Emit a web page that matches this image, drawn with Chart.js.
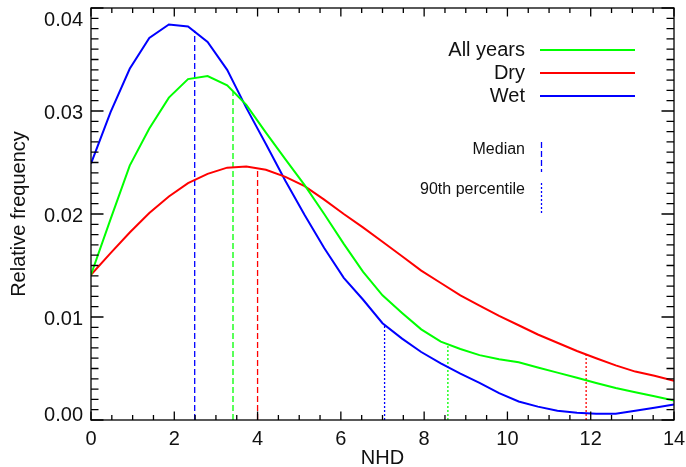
<!DOCTYPE html>
<html>
<head>
<meta charset="utf-8">
<script src="https://cdn.jsdelivr.net/npm/chart.js@4"></script>
<style>
html, body { margin: 0; padding: 0; background: #fff; }
</style>
</head>
<body>
<canvas id="nhdChart" width="686" height="467"></canvas>
<script>
// NHD values where the frequency curves are sampled
const nhd = [0, 0.47, 0.93, 1.4, 1.87, 2.33, 2.8, 3.27, 3.73, 4.2, 4.67, 5.13, 5.6, 6.07, 6.53, 7.0,
    7.47, 7.93, 8.4, 8.87, 9.33, 9.8, 10.27, 10.73, 11.2, 11.67, 12.13, 12.6, 13.07, 13.53, 14];

const allYears = [0.0141, 0.0195, 0.0247, 0.0283, 0.0313, 0.0331, 0.0334, 0.0325, 0.0306, 0.0279, 0.0253,
    0.0228, 0.0200, 0.0171, 0.0144, 0.0121, 0.0104, 0.0088, 0.0076, 0.0069, 0.0063, 0.0059, 0.0056,
    0.0051, 0.0046, 0.0041, 0.0036, 0.0031, 0.0027, 0.0023, 0.0019];
const dry = [0.0141, 0.0162, 0.0182, 0.0201, 0.0217, 0.0230, 0.0239, 0.0245, 0.0246, 0.0243, 0.0236,
    0.0227, 0.0214, 0.0200, 0.0187, 0.0173, 0.0159, 0.0145, 0.0133, 0.0121, 0.0111, 0.0101, 0.0092,
    0.0083, 0.0075, 0.0067, 0.0060, 0.0053, 0.0047, 0.0043, 0.0038];
const wet = [0.0249, 0.0299, 0.0341, 0.0371, 0.0384, 0.0382, 0.0367, 0.0340, 0.0303, 0.0268, 0.0232,
    0.0199, 0.0167, 0.0138, 0.0117, 0.0094, 0.0079, 0.0066, 0.0055, 0.0045, 0.0036, 0.0026, 0.0018,
    0.0013, 0.0009, 0.0007, 0.0006, 0.0006, 0.0009, 0.0012, 0.0015];

// order: all years, dry, wet
const seriesNames = ['All years', 'Dry', 'Wet'];
const seriesColors = ['#00ff00', '#ff0000', '#0000ff'];
const medianNHD = [3.41, 4.0, 2.49];
const medianFreq = [0.0319, 0.0244, 0.0378];
const p90NHD = [8.57, 11.89, 7.05];
const p90Freq = [0.0073, 0.0064, 0.0092];

const xTicks = [0, 2, 4, 6, 8, 10, 12, 14];
const yTicks = [0, 0.01, 0.02, 0.03, 0.04];

const FONT = "'Liberation Sans', Arial, Helvetica, sans-serif";

function curve(values) {
    return nhd.map((x, i) => ({ x: x, y: values[i] }));
}

const datasets = [];
[allYears, dry, wet].forEach((vals, i) => {
    datasets.push({
        label: seriesNames[i],
        data: curve(vals),
        borderColor: seriesColors[i],
        borderWidth: 2,
        pointRadius: 0,
        tension: 0
    });
});
medianNHD.forEach((x, i) => {
    datasets.push({
        label: seriesNames[i] + ' median',
        data: [{ x: x, y: 0 }, { x: x, y: medianFreq[i] }],
        borderColor: seriesColors[i],
        borderWidth: 1.3,
        borderDash: [6, 3],
        pointRadius: 0
    });
});
p90NHD.forEach((x, i) => {
    datasets.push({
        label: seriesNames[i] + ' 90th',
        data: [{ x: x, y: 0 }, { x: x, y: p90Freq[i] }],
        borderColor: seriesColors[i],
        borderWidth: 1.3,
        borderDash: [2, 2],
        pointRadius: 0
    });
});

// frame, inward ticks, y labels and the legend, drawn the IDL way
const framePlugin = {
    id: 'frameTicks',
    afterDraw(chart) {
        const ctx = chart.ctx;
        const a = chart.chartArea;
        const xs = chart.scales.x, ys = chart.scales.y;
        ctx.save();
        ctx.strokeStyle = '#000';
        ctx.lineWidth = 1.3;
        ctx.strokeRect(a.left, a.top, a.right - a.left, a.bottom - a.top);

        ctx.beginPath();
        for (let k = 0; k <= 28; k++) {
            const px = xs.getPixelForValue(k * 0.5);
            const len = k % 4 === 0 ? 8.5 : 5;
            ctx.moveTo(px, a.bottom); ctx.lineTo(px, a.bottom - len);
            ctx.moveTo(px, a.top); ctx.lineTo(px, a.top + len);
        }
        for (let k = 0; k <= 40; k++) {
            const py = ys.getPixelForValue(k * 0.001);
            const len = k % 10 === 0 ? 12.5 : 7.5;
            ctx.moveTo(a.left, py); ctx.lineTo(a.left + len, py);
            ctx.moveTo(a.right, py); ctx.lineTo(a.right - len, py);
        }
        ctx.stroke();

        ctx.fillStyle = '#111';
        ctx.font = '20px ' + FONT;
        ctx.textAlign = 'right';
        ctx.textBaseline = 'middle';
        yTicks.forEach(v => {
            let py = ys.getPixelForValue(v) + 2;
            py = Math.min(Math.max(py, a.top + 12), a.bottom - 5);
            ctx.fillText(v.toFixed(2), 83, py);
        });

        // legend
        const rows = [50, 73, 96];
        ctx.textBaseline = 'alphabetic';
        seriesNames.forEach((name, i) => {
            ctx.fillStyle = '#111';
            ctx.fillText(name, 525, rows[i] + 6);
            ctx.strokeStyle = seriesColors[i];
            ctx.lineWidth = 2;
            ctx.beginPath();
            ctx.moveTo(540, rows[i]); ctx.lineTo(635, rows[i]);
            ctx.stroke();
        });
        ctx.font = '16px ' + FONT;
        ctx.fillStyle = '#111';
        ctx.fillText('Median', 525, 154);
        ctx.fillText('90th percentile', 525, 194);
        ctx.strokeStyle = '#0000ff';
        ctx.lineWidth = 1.3;
        ctx.setLineDash([6, 3]);
        ctx.beginPath(); ctx.moveTo(541.5, 142); ctx.lineTo(541.5, 172); ctx.stroke();
        ctx.setLineDash([2, 2]);
        ctx.beginPath(); ctx.moveTo(541.5, 183); ctx.lineTo(541.5, 213); ctx.stroke();
        ctx.restore();
    }
};

const ctx = document.getElementById('nhdChart').getContext('2d');
new Chart(ctx, {
    type: 'line',
    data: { datasets: datasets },
    options: {
        responsive: false,
        animation: false,
        layout: { padding: { top: 8, right: 12, left: 0, bottom: 0 } },
        plugins: {
            legend: { display: false },
            tooltip: { enabled: false }
        },
        scales: {
            x: {
                type: 'linear',
                min: 0,
                max: 14,
                afterFit: function (scale) { scale.height = 47; },
                afterBuildTicks: function (scale) { scale.ticks = xTicks.map(v => ({ value: v })); },
                grid: { display: false },
                border: { display: false },
                ticks: { padding: -1, color: '#111', autoSkip: false, maxRotation: 0, font: { family: FONT, size: 20 } },
                title: { display: true, text: 'NHD', color: '#111', padding: { top: 0, bottom: -1 }, font: { family: FONT, size: 20, lineHeight: 1 } }
            },
            y: {
                type: 'linear',
                min: 0,
                max: 0.04,
                afterFit: function (scale) { scale.width = 91; },
                grid: { display: false },
                border: { display: false },
                ticks: { display: false },
                title: { display: true, text: 'Relative frequency', color: '#111', padding: { top: 9.5, bottom: 0 }, font: { family: FONT, size: 20, lineHeight: 1 } }
            }
        }
    },
    plugins: [framePlugin]
});
</script>
</body>
</html>
